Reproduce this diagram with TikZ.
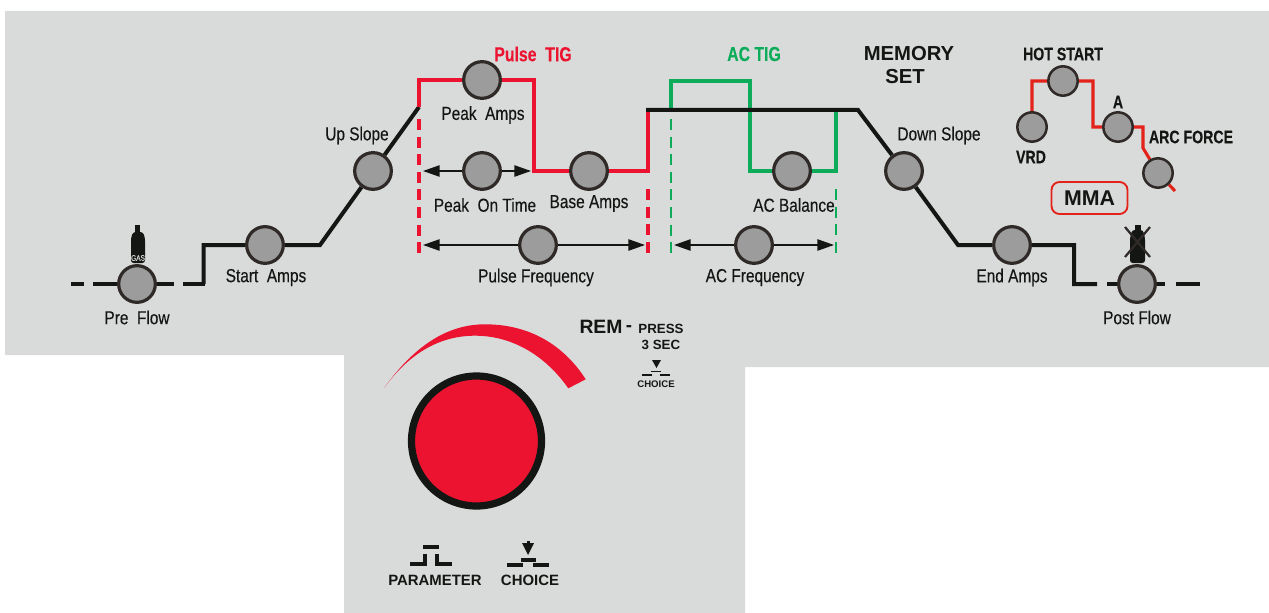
\documentclass[tikz,border=0pt]{standalone}
\usepackage{fontspec}
\setmainfont[FakeStretch=0.82,FakeBold=0.25]{Liberation Sans}
\newfontfamily\condb[FakeStretch=0.78,FakeBold=0.2]{Liberation Sans Bold}
\newfontfamily\plainb{Liberation Sans Bold}
\usetikzlibrary{backgrounds,arrows.meta}
\definecolor{panel}{HTML}{D9DBDA}
\definecolor{knobgrey}{HTML}{9C9C9C}
\definecolor{ringc}{HTML}{2F2A28}
\definecolor{blk}{HTML}{141614}
\definecolor{redp}{HTML}{EC1330}
\definecolor{greenp}{HTML}{0CAC5A}
\definecolor{redm}{HTML}{E32219}
\tikzset{
 x=0.75pt,y=-0.75pt,
 knob/.style={circle,draw=ringc,fill=knobgrey,line width=2.4pt,minimum size=27.5pt,inner sep=0pt},
 smallknob/.style={circle,draw=ringc,fill=knobgrey,line width=1.9pt,minimum size=22pt,inner sep=0pt},
 lab/.style={font=\fontsize{14.1}{16}\selectfont,text=blk,inner sep=0pt},
 blab/.style={font=\fontsize{13.6}{15}\condb,text=blk,inner sep=0pt},
 plab/.style={font=\plainb,text=blk,inner sep=0pt},
 blkline/.style={draw=blk,line width=3pt,line join=miter},
 redline/.style={draw=redp,line width=3pt},
 greenline/.style={draw=greenp,line width=2.35pt},
 mmaline/.style={draw=redm,line width=2.3pt},
 reddash/.style={draw=redp,line width=2.3pt,dash pattern=on 8.2pt off 5pt},
 greendash/.style={draw=greenp,line width=1.5pt,dash pattern=on 8.2pt off 5pt},
 dbl/.style={draw=blk,line width=1.1pt,{Triangle[length=12.5pt,width=8.5pt]}-{Triangle[length=12.5pt,width=8.5pt]}},
 sym/.style={draw=blk,line width=2.7pt},
}
\begin{document}
\begin{tikzpicture}
\useasboundingbox (0,0) rectangle (1269,613);
% knobs
\node[knob] (pre) at (137,284) {};
\node[knob] (start) at (265,245) {};
\node[knob] (up) at (373,171) {};
\node[knob] (peak) at (482,80) {};
\node[knob] (ontime) at (482,171) {};
\node[knob] (base) at (589,171) {};
\node[knob] (pfreq) at (538,245) {};
\node[knob] (acbal) at (792,171) {};
\node[knob] (acfreq) at (754,245) {};
\node[knob] (down) at (904,171) {};
\node[knob] (endamps) at (1012,245) {};
\node[knob] (post) at (1137,284) {};
\node[smallknob] (vrd) at (1032,127) {};
\node[smallknob] (hot) at (1063,81) {};
\node[smallknob] (aa) at (1118,127) {};
\node[smallknob] (arc) at (1158,173) {};
% corner coordinates
\coordinate (a1) at (71,284); \coordinate (a2) at (84,284);
\coordinate (a3) at (93,284); \coordinate (a4) at (174,284);
\coordinate (a5) at (183,284); \coordinate (a6) at (205,284);
\coordinate (a7) at (203.7,284);
\coordinate (b1) at (320,245); \coordinate (b2) at (419,107);
\coordinate (r1) at (419,80); \coordinate (r2) at (534,80);
\coordinate (r3) at (534,171); \coordinate (r4) at (648,171);
\coordinate (r5) at (648,110);
\coordinate (k1) at (646,110); \coordinate (k2) at (858,110);
\coordinate (k3) at (958,245); \coordinate (k4) at (1074,245);
\coordinate (k5) at (1074,284); \coordinate (k6) at (1097,284);
\coordinate (k7) at (1107,284); \coordinate (k8) at (1165,284);
\coordinate (k9) at (1176,284); \coordinate (k10) at (1200,284);
\coordinate (g1) at (671,110); \coordinate (g2) at (671,81);
\coordinate (g3) at (750,81); \coordinate (g4) at (750,171);
\coordinate (g5) at (836,171); \coordinate (g6) at (836,110);
\coordinate (m1) at (1032,81); \coordinate (m2) at (1093,81);
\coordinate (m3) at (1093,127); \coordinate (m4) at (1143,127);
\coordinate (m5) at (1143,148); \coordinate (m6) at (1175,191);
\coordinate (ar1) at (423,171); \coordinate (ar2) at (531,171);
\coordinate (ar3) at (423,245); \coordinate (ar4) at (645,245);
\coordinate (ar5) at (674,245); \coordinate (ar6) at (834,245);
\coordinate (d1) at (419,119); \coordinate (d2) at (419,254);
\coordinate (d3) at (648,189); \coordinate (d4) at (648,254);
\coordinate (d5) at (671,119); \coordinate (d6) at (671,254);
\coordinate (d7) at (836,189); \coordinate (d8) at (836,254);
\begin{scope}[on background layer]
\fill[panel] (5,11) -- (1269,11) -- (1269,367) -- (745,367) -- (745,613) -- (344,613) -- (344,355) -- (5,355) -- cycle;
% process line
\draw[blkline] (a1) -- (a2);
\draw[blkline] (a3) -- (a4);
\draw[blkline] (a5) -- (a6);
\draw[blkline] (a7) |- (start) -- (b1) -- (up) -- (b2);
\draw[redline] (b2) -- (r1) -- (peak) -- (r2) -- (r3) -- (base) -- (r4) -- (r5);
\draw[greenline] (g1) -- (g2) -- (g3) -- (g4) -- (acbal) -- (g5) -- (g6);
\draw[blkline] (k1) -- (k2) -- (down) -- (k3) -- (endamps) -- (k4) -- (k5) -- (k6);
\draw[blkline] (k7) -- (k8);
\draw[blkline] (k9) -- (k10);
\draw[mmaline] (vrd) -- (m1) -- (hot) -- (m2) -- (m3) -- (aa) -- (m4) -- (m5) -- (arc) -- (m6);
\draw[reddash] (d1) -- (d2);
\draw[reddash] (d3) -- (d4);
\draw[greendash] (d5) -- (d6);
\draw[greendash] (d7) -- (d8);
\draw[dbl] (ar1) -- (ar2);
\draw[dbl] (ar3) -- (ar4);
\draw[dbl] (ar5) -- (ar6);
\end{scope}
% labels
\node[lab] (t1) at (137,317.5) {Pre\ \ Flow};
\node[lab] (t2) at (266,277.5) {Start\ \ Amps};
\node[lab] (t3) at (357,135.5) {Up Slope};
\node[lab] (t4) at (483,115) {Peak\ \ Amps};
\node[lab] (t5) at (485,205) {Peak\ \ On Time};
\node[lab] (t6) at (589,203.5) {Base Amps};
\node[lab] (t7) at (536,277.5) {Pulse Frequency};
\node[lab] (t8) at (794,205) {AC Balance};
\node[lab] (t9) at (755,277.5) {AC Frequency};
\node[lab] (t10) at (939,135.5) {Down Slope};
\node[lab] (t11) at (1012,277.5) {End Amps};
\node[lab] (t12) at (1137,317.5) {Post Flow};
\node[font=\fontsize{15.2}{17}\condb,text=redp,inner sep=0pt] (t13) at (533,54) {Pulse\ \ TIG};
\node[font=\fontsize{15.2}{17}\condb,text=greenp,inner sep=0pt] (t14) at (754,54) {AC TIG};
\node[font=\fontsize{15.2}{17}\plainb,text=blk,inner sep=0pt] (t15) at (909,54) {MEMORY};
\node[font=\fontsize{15.2}{17}\plainb,text=blk,inner sep=0pt] (t16) at (905,77) {SET};
\node[blab] (t17) at (1063,54) {HOT START};
\node[blab] (t18) at (1118,102) {A};
\node[blab] (t19) at (1031,157) {VRD};
\node[blab] (t20) at (1191,137) {ARC FORCE};
\node[draw=redm,line width=1.4pt,rounded corners=6pt,minimum width=57pt,minimum height=24pt,inner sep=0pt,font=\fontsize{16}{18}\plainb,text=blk] (mma) at (1089.5,198) {MMA};
% cylinders
\fill[blk] (135,225) rectangle (140,233);
\fill[blk,rounded corners=2pt] (131,238) -- (133,232) -- (143,232) -- (145,238) -- (145,263) -- (131,263) -- cycle;
\node[font=\fontsize{6}{7}\selectfont,text=panel,inner sep=0pt] (gas) at (138,258) {GAS};
\fill[blk] (1135,225) rectangle (1141,232);
\fill[blk,rounded corners=2pt] (1130,238) -- (1132,230) -- (1143,230) -- (1145,238) -- (1145,263) -- (1130,263) -- cycle;
\draw[ringc,line width=1.7pt] (1125,227) -- (1150,257) (1150,227) -- (1125,257);
% main dial
\fill[redp] (384.3,387.7) .. controls (415,345) and (448,324.3) .. (485,324.3) .. controls (531.7,324.3) and (565,347) .. (585.7,379.3) -- (568.3,388.3) .. controls (545,355) and (511.7,335.7) .. (475,335.7) .. controls (438,335.7) and (408,355) .. (384.3,387.7) -- cycle;
\node[circle,draw=blk,fill=redp,line width=5.4pt,minimum size=97.5pt,inner sep=0pt] (dial) at (476.5,441) {};
% REM
\node[font=\fontsize{14.5}{16}\plainb,text=blk,inner sep=0pt] (rem) at (601,327) {REM};
\node[font=\fontsize{14}{16}\plainb,text=blk,inner sep=0pt] (dash) at (629,329) {-};
\node[font=\fontsize{10}{12}\plainb,text=blk,inner sep=0pt] (press) at (661,329) {PRESS};
\node[font=\fontsize{10}{12}\plainb,text=blk,inner sep=0pt] (sec) at (661,345) {3 SEC};
\node[font=\fontsize{7.2}{8}\plainb,text=blk,inner sep=0pt] (ch1) at (656,384) {CHOICE};
\fill[blk] (652,360) -- (661,360) -- (656.5,368) -- cycle;
\draw[blk,line width=1.3pt] (642,375) -- (652,375) (651,371.5) -- (661,371.5) (660,375) -- (670,375);
% bottom symbols
\draw[sym] (410,564) -- (425,564) -- (425,554);
\draw[sym] (423,547) -- (439,547);
\draw[sym] (437,554) -- (437,564) -- (452,564);
\node[font=\fontsize{11.2}{13}\plainb,text=blk,inner sep=0pt] (par) at (435,580) {PARAMETER};
\fill[blk] (522,543) -- (534,543) -- (528,555) -- cycle;
\fill[blk] (526.5,541) rectangle (529.5,545);
\draw[sym] (507,565) -- (523,565) (521,560) -- (536,560) (533,565) -- (549,565);
\node[font=\fontsize{11.2}{13}\plainb,text=blk,inner sep=0pt] (ch2) at (530,580) {CHOICE};
\end{tikzpicture}
\end{document}
